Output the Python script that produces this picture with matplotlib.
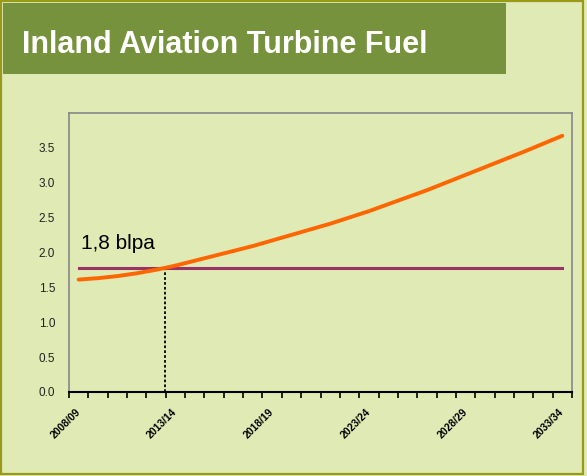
import matplotlib.pyplot as plt
from matplotlib.patches import Rectangle

# yearly categories 2008/09 .. 2033/34
years = [f"{y}/{str(y + 1)[-2:]}" for y in range(2008, 2034)]
demand = [1.61, 1.63, 1.66, 1.70, 1.75, 1.81, 1.88, 1.95, 2.02, 2.09,
          2.17, 2.25, 2.33, 2.41, 2.50, 2.59, 2.69, 2.79, 2.89, 3.00,
          3.11, 3.22, 3.33, 3.44, 3.555, 3.67]
capacity = [1.78] * len(years)
cross_x = 4.45
yticks = [0.0, 0.5, 1.0, 1.5, 2.0, 2.5, 3.0, 3.5]

bg = '#dfeab4'
fig = plt.figure(figsize=(5.87, 4.76), dpi=100, facecolor=bg)

# frame and title banner
fig.patches.append(Rectangle((0.002, 0.004), 0.992, 0.993, transform=fig.transFigure,
                             fill=False, edgecolor='#9a9a1a', lw=1.6))
fig.patches.append(Rectangle((0.005, 0.845), 0.857, 0.149, transform=fig.transFigure,
                             facecolor='#77923d', edgecolor='none'))
fig.text(0.037, 0.889, 'Inland Aviation Turbine Fuel', color='white', fontsize=22,
         fontweight='bold', family='Liberation Sans', va='baseline')

ax = fig.add_axes([0.1175, 0.1765, 0.857, 0.5867])
ax.set_facecolor(bg)
x = list(range(len(years)))
ax.plot(x, capacity, color='#993366', lw=2.2, zorder=2)
ax.plot(x, demand, color='#ff6600', lw=2.8, solid_capstyle='round', zorder=3)
ax.plot([cross_x, cross_x], [0, capacity[0]], color='black', lw=1.3, ls=(0, (1.5, 1.2)), zorder=1)
ax.text(0.1, 2.05, '1,8 blpa', fontsize=15, family='Liberation Sans', va='baseline')

ax.set_xlim(-0.5, len(years) - 0.5)
ax.set_ylim(0, 4)
ax.set_yticks(yticks)
ax.set_yticklabels([f"{v:.1f}" for v in yticks], fontsize=8.5, color='#222222',
                   family='Liberation Sans')
ax.tick_params(axis='y', length=0, pad=10)

ax.set_xticks([i - 0.5 for i in range(len(years) + 1)], minor=True)
ax.set_xticks(x[::5])
ax.set_xticklabels(years[::5], rotation=45, ha='right', va='center', rotation_mode='anchor',
                   fontsize=7.5, fontweight='bold', family='Liberation Sans')
ax.tick_params(axis='x', which='major', length=0, pad=13)
ax.tick_params(axis='x', which='minor', length=4, width=1.2, direction='out', color='black')

for s in ['left', 'top', 'right']:
    ax.spines[s].set_color('#888888')
    ax.spines[s].set_linewidth(1.2)
ax.spines['bottom'].set_color('black')
ax.spines['bottom'].set_linewidth(1.5)

fig.savefig('out.png', dpi=100, facecolor=bg)
